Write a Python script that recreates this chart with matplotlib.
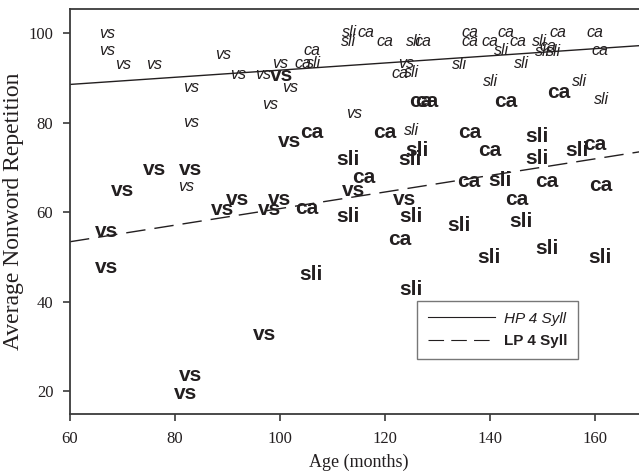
import matplotlib
matplotlib.use("Agg")
import matplotlib.pyplot as plt
from matplotlib.lines import Line2D

# ---- data (age in months, average nonword repetition) ----
# HP 4 Syll (small italic labels)
vs_hp_x = [67, 67, 70.2, 76.1, 89.2, 92.1, 83, 83, 82.2, 96.8, 102, 98.1, 114.1, 124.1, 100.1]
vs_hp_y = [100, 96.1, 93.1, 93.1, 95.2, 90.9, 88, 80, 65.7, 90.9, 88, 84, 82, 93.3, 93.3]
sli_hp_x = [113.2, 113.1, 125.5, 106.3, 125.1, 125.1, 142.2, 134.2, 146, 140.1, 157.1, 161.3, 149.5, 150, 152]
sli_hp_y = [100.2, 98.2, 98.2, 93.2, 91.2, 78.3, 96.2, 93.1, 93.3, 89.2, 89.2, 85.3, 98.2, 95.9, 95.9]
ca_hp_x = [116.4, 120, 127.2, 106, 104.4, 122.9, 136.1, 136.1, 140, 143, 145.4, 153, 160, 161, 151]
ca_hp_y = [100.2, 98.2, 98.2, 96.1, 93.2, 91.1, 100.2, 98.2, 98.2, 100.2, 98.2, 100.2, 100.2, 96.2, 97.2]

# LP 4 Syll (large bold labels)
vs_lp_x = [76.1, 83, 70, 67, 67, 89.1, 91.9, 100.2, 101.9, 114, 100, 98, 123.8, 97, 83, 82]
vs_lp_y = [69.6, 69.6, 64.8, 55.8, 47.7, 60.7, 62.8, 90.7, 75.8, 64.8, 62.9, 60.7, 62.9, 32.7, 23.4, 19.5]
sli_lp_x = [113, 126, 124.8, 113, 125, 106, 125, 148.9, 148.9, 156.5, 141.9, 134, 145.9, 139.9, 150.8, 161]
sli_lp_y = [71.9, 73.9, 71.9, 59, 59, 46, 42.8, 76.9, 72.1, 73.9, 67, 57, 57.9, 49.9, 51.9, 49.9]
ca_lp_x = [126.9, 127.9, 120, 106, 115.9, 105, 122.9, 143, 153, 136.1, 140, 160, 135.9, 150.8, 161, 145]
ca_lp_y = [84.7, 84.7, 77.9, 77.8, 67.8, 60.9, 53.8, 84.7, 86.8, 77.9, 73.9, 75.1, 66.9, 66.9, 65.9, 62.9]

# fitted lines (endpoints)
hp_line_x = [60, 170]
hp_line_y = [88.6, 97.4]
lp_line_x = [60, 170]
lp_line_y = [53.4, 73.8]

x_ticks = [60, 80, 100, 120, 140, 160]
y_ticks = [20, 40, 60, 80, 100]

ink = "#231f20"
spine_c = "#3a3a3a"

fig = plt.figure(figsize=(6.39, 4.73), dpi=100)
ax = fig.add_axes([70 / 639, 59 / 473, 577.5 / 639, 405 / 473])
ax.set_xlim(60, 170)
ax.set_ylim(14.85, 105.48)

ax.plot(hp_line_x, hp_line_y, color=ink, lw=1.0, solid_capstyle="butt")
ax.plot(lp_line_x, lp_line_y, color=ink, lw=1.0, dashes=(14, 6.5))

small = dict(family="Liberation Sans", style="italic", fontsize=11.5, color=ink,
             ha="center", va="center")
big = dict(family="Liberation Sans", weight="bold", fontsize=15, color=ink,
           ha="center", va="center")

for xs, ys, lab in [(vs_hp_x, vs_hp_y, "vs"), (sli_hp_x, sli_hp_y, "sli"), (ca_hp_x, ca_hp_y, "ca")]:
    for x, y in zip(xs, ys):
        ax.text(x, y, lab, **small)
for xs, ys, lab in [(vs_lp_x, vs_lp_y, "vs"), (sli_lp_x, sli_lp_y, "sli"), (ca_lp_x, ca_lp_y, "ca")]:
    for x, y in zip(xs, ys):
        ax.text(x, y, lab, **big)

ax.set_xticks(x_ticks)
ax.set_yticks(y_ticks)
for lab in ax.get_xticklabels() + ax.get_yticklabels():
    lab.set_family("Liberation Serif")
    lab.set_fontsize(12)
    lab.set_color(ink)
ax.tick_params(direction="out", length=5, width=1.2, color=spine_c, pad=7)

for s in ["left", "bottom", "top", "right"]:
    ax.spines[s].set_color(spine_c)
    ax.spines[s].set_linewidth(1.3)

ax.set_xlabel("Age (months)", family="Liberation Serif", fontsize=13, color=ink, labelpad=5)
ax.set_ylabel("Average Nonword Repetition", family="Liberation Serif", fontsize=17, color=ink, labelpad=3)

handles = [Line2D([], [], color=ink, lw=0.8),
           Line2D([], [], color=ink, lw=0.8, dashes=(14, 6.5))]
leg = ax.legend(handles, ["HP 4 Syll", "LP 4 Syll"], loc="upper left",
                bbox_to_anchor=(0.601, 0.279), borderaxespad=0.0, frameon=True, fancybox=False,
                handlelength=4.4, handletextpad=0.6, borderpad=0.7, labelspacing=0.55,
                prop=dict(family="Liberation Sans", size=11))
leg.get_frame().set_edgecolor("#555555")
leg.get_frame().set_linewidth(1.0)
texts = leg.get_texts()
texts[0].set_style("italic")
texts[1].set_weight("bold")
for t in texts:
    t.set_color(ink)

fig.savefig("out.png", dpi=100)
